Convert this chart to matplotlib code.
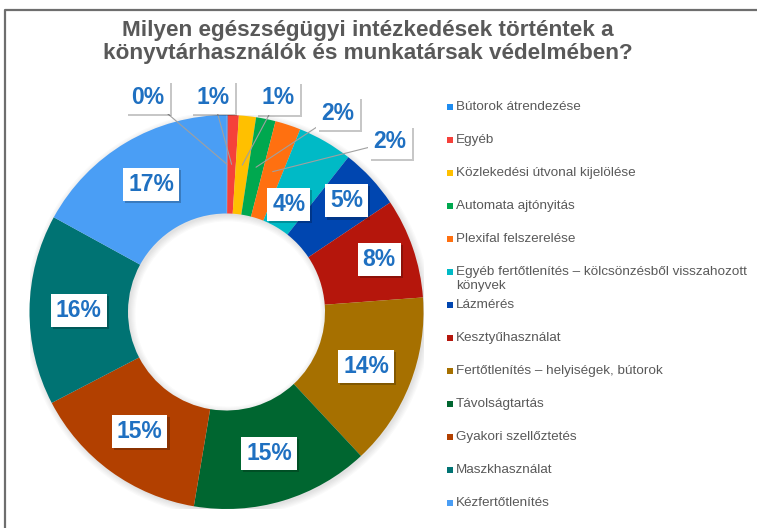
import numpy as np
import matplotlib
matplotlib.use("Agg")
from matplotlib import pyplot as plt
from matplotlib.lines import Line2D
from matplotlib.patches import Rectangle, Wedge
import matplotlib.patheffects as pe

plt.rcParams['font.family'] = ['Liberation Sans', 'DejaVu Sans']

# --- Adatok ---
title = "Milyen egészségügyi intézkedések történtek a\nkönyvtárhasználók és munkatársak védelmében?"
categories = [
    "Bútorok átrendezése",
    "Egyéb",
    "Közlekedési útvonal kijelölése",
    "Automata ajtónyitás",
    "Plexifal felszerelése",
    "Egyéb fertőtlenítés – kölcsönzésből visszahozott\nkönyvek",
    "Lázmérés",
    "Kesztyűhasználat",
    "Fertőtlenítés – helyiségek, bútorok",
    "Távolságtartás",
    "Gyakori szellőztetés",
    "Maszkhasználat",
    "Kézfertőtlenítés",
]
shares = [0.1, 0.9, 1.4, 1.6, 2.1, 4.5, 5.0, 8.2, 14.2, 14.6, 14.7, 15.6, 17.0]
pct_labels = ["0%", "1%", "1%", "2%", "2%", "4%", "5%", "8%", "14%", "15%", "15%", "16%", "17%"]
colors = ["#1E8CF0", "#F5413A", "#FFC000", "#00A84F", "#FF7010", "#00BAC6", "#0046B0",
          "#B5160C", "#A67000", "#006630", "#B24000", "#007373", "#4A9EF5"]

# --- Elrendezés ---
W, H = 757, 528
cx, cy, R = 226.5, 312, 197
# belső címkék sugara (R egységben); None = külső címke vezetővonallal
label_r = [None, None, None, None, None, 0.63, 0.83, 0.82, 0.76, 0.75, 0.75, 0.75, 0.75]
# külső címkék helye pixelben (x, y felülről)
outside_pos = {0: (148, 97), 1: (213, 97), 2: (278, 98), 3: (338, 113), 4: (390, 142)}

fig = plt.figure(figsize=(W / 100, H / 100), dpi=100)
ax = fig.add_axes([(cx - R) / W, (H - cy - R) / H, 2 * R / W, 2 * R / H])

# halvány árnyék a gyűrű körül
for i in range(6):
    ax.add_patch(Wedge((0.008, -0.01), 1.0 + 0.006 * i, 0, 360, width=0.5 + 0.012 * i,
                       color="#000000", alpha=0.02, lw=0, zorder=0))

wedges, _ = ax.pie(shares, colors=colors, startangle=90, counterclock=False, radius=1,
                   wedgeprops=dict(width=0.5, edgecolor='none'))
for w in wedges:
    w.set_zorder(2)
ax.set_xlim(-1, 1)
ax.set_ylim(-1, 1)
ax.set_aspect('equal')
ax.axis('off')

label_color = "#1F70C1"
shadow = [pe.withSimplePatchShadow(offset=(1.5, -1.5), shadow_rgbFace="#000000", alpha=0.22)]
box = dict(boxstyle='square,pad=0.22', fc='white', ec='none')

total = sum(shares)
cum = np.cumsum([0] + shares)
for i, lab in enumerate(pct_labels):
    mid = (cum[i] + shares[i] / 2) / total * 2 * np.pi
    if label_r[i] is None:
        px, py = outside_pos[i]
        t = ax.annotate(lab, xy=(0.75 * np.sin(mid), 0.75 * np.cos(mid)),
                        xytext=((px - cx) / R, (cy - py) / R),
                        ha='center', va='center', fontsize=16.5, fontweight='bold',
                        color=label_color, zorder=5, annotation_clip=False, bbox=box,
                        arrowprops=dict(arrowstyle='-', color="#A0A0A0", lw=0.8,
                                        shrinkA=0, shrinkB=0))
    else:
        r = label_r[i]
        t = ax.text(r * np.sin(mid), r * np.cos(mid), lab, ha='center', va='center',
                    fontsize=16.5, fontweight='bold', color=label_color, zorder=5,
                    clip_on=False, bbox=box)
    t.get_bbox_patch().set_path_effects(shadow)

# --- Cím ---
fig.text(368 / W, 1 - 42 / H, title, ha='center', va='center', fontsize=16.2,
         fontweight='bold', color="#595959", linespacing=1.1)

# --- Jelmagyarázat ---
leg_x, leg_y0, leg_dy = 447, 107, 33
sq = 6
for i, name in enumerate(categories):
    y = leg_y0 + i * leg_dy
    fig.add_artist(Rectangle((leg_x / W, 1 - (y + sq / 2) / H), sq / W, sq / H,
                             transform=fig.transFigure, color=colors[i], lw=0))
    fig.text((leg_x + 9) / W, 1 - (y - 6) / H, name, ha='left', va='top', fontsize=9.7,
             color="#595959", linespacing=1.2)

# --- Keret ---
fig.add_artist(Line2D([5 / W, 5 / W, 1], [0, 1 - 10 / H, 1 - 10 / H],
                      transform=fig.transFigure, color="#6E6E6E", lw=1.6))

fig.savefig("out.png", dpi=100)
